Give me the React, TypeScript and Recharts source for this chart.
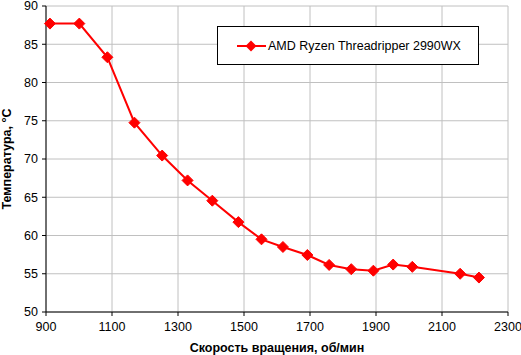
import React from 'react';
import { LineChart, Line, XAxis, YAxis, CartesianGrid, Legend, Label } from 'recharts';

const seriesName = 'AMD Ryzen Threadripper 2990WX';
const rpm = [912, 1001, 1086, 1168, 1252, 1329, 1404, 1483, 1553, 1618, 1692, 1758, 1825, 1892, 1952, 2010, 2155, 2212];
const temperature = [87.7, 87.7, 83.3, 74.75, 70.45, 67.2, 64.55, 61.75, 59.5, 58.5, 57.45, 56.15, 55.6, 55.4, 56.2, 55.9, 55.0, 54.5];
const xTicks = [900, 1100, 1300, 1500, 1700, 1900, 2100, 2300];
const yTicks = [50, 55, 60, 65, 70, 75, 80, 85, 90];
const xTitle = 'Скорость вращения, об/мин';
const yTitle = 'Температура, °C';

const data = rpm.map((x, i) => ({ x, y: temperature[i] }));

const FONT = '"Liberation Sans", Arial, sans-serif';
const RED = '#ff0000';

const Diamond = (props: any) => {
  const { cx, cy, index } = props;
  if (cx == null || cy == null) return <g key={index} />;
  const r = 5.5;
  return (
    <polygon
      key={index}
      points={`${cx},${cy - r} ${cx + r},${cy} ${cx},${cy + r} ${cx - r},${cy}`}
      fill={RED}
      stroke={RED}
      strokeWidth={1}
    />
  );
};

const LegendBox = () => (
  <div
    style={{
      width: 260,
      height: 37,
      border: '1px solid #000',
      background: '#fff',
      display: 'flex',
      alignItems: 'center',
      fontFamily: FONT,
      fontSize: 12.5,
      color: '#000',
      boxSizing: 'content-box',
    }}
  >
    <svg width={50} height={14}>
      <line x1={19} y1={7} x2={48} y2={7} stroke={RED} strokeWidth={2} />
      <polygon points="33,1.5 38.5,7 33,12.5 27.5,7" fill={RED} />
    </svg>
    <span>{seriesName}</span>
  </div>
);

const YTitle = (props: any) => {
  const vb = props.viewBox || {};
  const cy = vb.y + vb.height / 2;
  const x = 11;
  return (
    <text
      x={x}
      y={cy}
      transform={`rotate(-90, ${x}, ${cy})`}
      textAnchor="middle"
      fontFamily={FONT}
      fontSize={12.5}
      fontWeight="bold"
      fill="#000"
    >
      {yTitle}
    </text>
  );
};

export default function App() {
  return (
    <div style={{ position: 'absolute', left: 0, top: 0, width: 521, height: 355, background: '#fff' }}>
      <LineChart
        width={521}
        height={355}
        data={data}
        margin={{ top: 6, right: 13, left: 0, bottom: 0 }}
        style={{ fontFamily: FONT }}
      >
        <CartesianGrid stroke="#c0c0c0" strokeWidth={1} />
        <XAxis
          dataKey="x"
          type="number"
          domain={[900, 2300]}
          ticks={xTicks}
          interval={0}
          height={43}
          tickSize={4}
          tickMargin={6}
          stroke="#000"
          tick={{ fill: '#000', fontSize: 12.5, fontFamily: FONT }}
          axisLine={{ stroke: '#000', strokeWidth: 1 }}
          tickLine={{ stroke: '#000' }}
        >
          <Label
            value={xTitle}
            position="insideBottom"
            offset={3}
            style={{ fontWeight: 'bold', fontSize: 12.5, fill: '#000', fontFamily: FONT }}
          />
        </XAxis>
        <YAxis
          type="number"
          domain={[50, 90]}
          ticks={yTicks}
          interval={0}
          width={46}
          tickSize={4}
          tickMargin={4}
          stroke="#000"
          tick={{ fill: '#000', fontSize: 12.5, fontFamily: FONT }}
          axisLine={{ stroke: '#000', strokeWidth: 1 }}
          tickLine={{ stroke: '#000' }}
        >
          <Label content={<YTitle />} />
        </YAxis>
        <Legend
          layout="vertical"
          align="center"
          verticalAlign="middle"
          wrapperStyle={{ top: 26, left: 217, width: 262, height: 39 }}
          content={() => <LegendBox />}
        />
        <Line
          type="linear"
          dataKey="y"
          name={seriesName}
          stroke={RED}
          strokeWidth={2}
          dot={Diamond}
          activeDot={false}
          isAnimationActive={false}
        />
      </LineChart>
    </div>
  );
}
